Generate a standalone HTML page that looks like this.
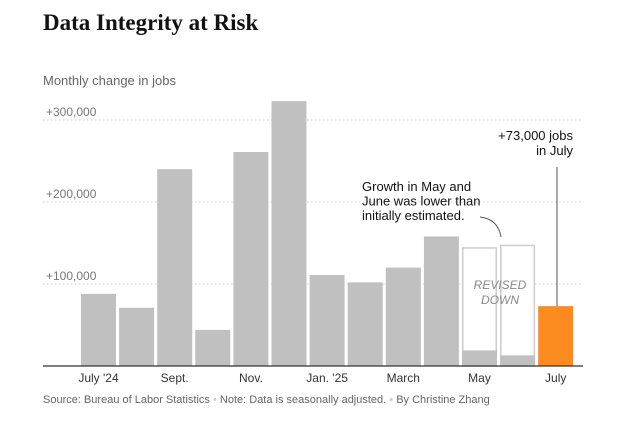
<!DOCTYPE html>
<html><head><meta charset="utf-8"><style>
body{margin:0;background:#fff;width:628px;height:421px;overflow:hidden;font-family:"Liberation Sans",sans-serif}
</style></head><body>
<svg width="628" height="421" xmlns="http://www.w3.org/2000/svg">
<text x="43" y="30" font-family="Liberation Serif,serif" font-weight="bold" font-size="23" fill="#121212">Data Integrity at Risk</text>
<text x="43" y="85" font-size="13" fill="#666">Monthly change in jobs</text>
<g id="grid"></g>
<g id="bars"></g>
<g id="xlabels"></g>
<line x1="43" x2="583" y1="366" y2="366" stroke="#333" stroke-width="1.2"/>
<text x="500" y="289" text-anchor="middle" font-size="12" font-style="italic" fill="#888"><tspan x="500">REVISED</tspan><tspan x="500" dy="15">DOWN</tspan></text>
<line id="julyLine" x1="557" x2="557" y1="167" y2="307" stroke="#555" stroke-width="1"/>
<text x="573" y="140" text-anchor="end" font-size="13" fill="#121212"><tspan x="573">+73,000 jobs</tspan><tspan x="573" dy="15">in July</tspan></text>
<text x="362" y="191" font-size="13" fill="#121212"><tspan x="362">Growth in May and</tspan><tspan x="362" dy="14.5">June was lower than</tspan><tspan x="362" dy="14.5">initially estimated.</tspan></text>
<path d="M480 217 Q498 219 501 237" fill="none" stroke="#555" stroke-width="1"/>
<text x="43" y="403" font-size="11" fill="#666">Source: Bureau of Labor Statistics <tspan fill="#ccc">•</tspan> Note: Data is seasonally adjusted. <tspan fill="#ccc">•</tspan> By Christine Zhang</text>
</svg>
<script>
const months=["Jul24","Aug24","Sep24","Oct24","Nov24","Dec24","Jan25","Feb25","Mar25","Apr25","May25","Jun25","Jul25"];
const jobs=[88000,71000,240000,44000,261000,323000,111000,102000,120000,158000,19000,13000,73000];
const original=[null,null,null,null,null,null,null,null,null,null,144000,147000,null];
const tickVals=[100000,200000,300000];
const tickLabels=["+100,000","+200,000","+300,000"];
const xLabelIdx=[0,2,4,6,8,10,12];
const xLabelText=["July '24","Sept.","Nov.","Jan. '25","March","May","July"];
const NS="http://www.w3.org/2000/svg";
const y=v=>366-v*0.00082;
const x=i=>81+i*38.1;
const bw=35;
function mk(t,a,p){const e=document.createElementNS(NS,t);for(const k in a)e.setAttribute(k,a[k]);p.appendChild(e);return e;}
const g=document.getElementById('grid'),b=document.getElementById('bars'),xl=document.getElementById('xlabels');
tickVals.forEach((v,i)=>{
 const l=mk('line',{x1:43,x2:583,y1:y(v),y2:y(v),stroke:'#ccc','stroke-dasharray':'1.5,2.5'},g);
 
 
 const t=mk('text',{x:46,y:y(v)-4,'font-size':12,fill:'#777'},g);t.textContent=tickLabels[i];
 
 
});
jobs.forEach((v,i)=>{
 if(original[i]!=null){
  const o=mk('rect',{x:x(i)+0.75,y:y(original[i]),width:bw-1.5,height:366-y(original[i]),fill:'#fff',stroke:'#ccc','stroke-width':1.5},b);
  
  
 }
 const r=mk('rect',{x:x(i),y:y(v),width:bw,height:366-y(v),fill:i==jobs.length-1?'#fb8b1e':'#c0c0c0'},b);
 
 
});
document.getElementById('julyLine').setAttribute('y2',y(jobs[12]));
xLabelIdx.forEach((idx,i)=>{
 const t=mk('text',{x:x(idx)+bw/2,y:382,'text-anchor':'middle','font-size':12,fill:'#333'},xl);t.textContent=xLabelText[i];
 
 
});
</script>
</body></html>
